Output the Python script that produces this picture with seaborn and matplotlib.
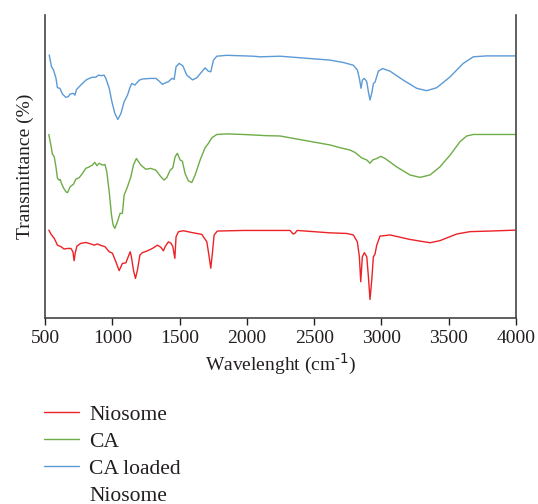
import numpy as np
import pandas as pd
import matplotlib
matplotlib.use('Agg')
import matplotlib.pyplot as plt
import seaborn as sns

# FTIR spectra (wavenumber in cm-1, transmittance in arbitrary %)
niosome_wn = [527, 547, 567, 591, 617, 641, 666, 691, 706, 715, 723, 736, 765, 802, 840, 864,
              889, 914, 944, 976, 1000, 1025, 1050, 1074, 1100, 1117, 1132, 1141, 1156, 1171,
              1186, 1204, 1223, 1260, 1297, 1335, 1360, 1379, 1392, 1416, 1436, 1449, 1464,
              1473, 1491, 1528, 1602, 1664, 1702, 1719, 1731, 1743, 1756, 1780, 1974, 2246,
              2321, 2343, 2358, 2373, 2618, 2742, 2791, 2821, 2836, 2846, 2858, 2873, 2891,
              2903, 2915, 2928, 2940, 2952, 2965, 2989, 3064, 3212, 3361, 3435, 3559, 3658,
              3807, 3993]
niosome_t = [29.3, 27.7, 26.6, 24.3, 23.8, 23.0, 23.2, 23.2, 22.1, 19.1, 21.6, 24.0, 24.9, 25.2,
             24.7, 24.3, 24.7, 24.2, 23.8, 22.1, 21.6, 18.8, 15.8, 18.2, 18.4, 20.4, 22.1, 20.4,
             16.0, 13.2, 16.0, 21.0, 21.8, 22.4, 23.2, 24.3, 23.6, 22.4, 23.8, 25.4, 24.9, 23.8,
             19.9, 27.1, 28.8, 29.1, 28.4, 27.9, 25.4, 20.4, 16.6, 21.6, 27.7, 29.0, 29.2, 29.2,
             29.2, 28.0, 28.3, 29.2, 28.4, 28.2, 27.7, 25.4, 20.4, 12.1, 20.4, 21.8, 20.4, 13.8,
             6.2, 12.7, 20.4, 21.3, 24.3, 27.3, 27.7, 26.2, 25.1, 25.8, 28.0, 28.8, 29.0, 29.3]

ca_wn = [527, 542, 554, 567, 580, 591, 604, 611, 621, 636, 654, 666, 686, 710, 728, 753, 777,
         802, 827, 851, 869, 884, 901, 926, 944, 958, 976, 993, 1005, 1018, 1037, 1057, 1074,
         1087, 1112, 1137, 1156, 1178, 1211, 1248, 1285, 1323, 1360, 1384, 1404, 1429, 1449,
         1466, 1483, 1503, 1520, 1540, 1565, 1590, 1615, 1652, 1689, 1713, 1739, 1776, 1850,
         1974, 2148, 2246, 2618, 2692, 2767, 2804, 2853, 2891, 2915, 2935, 2965, 2995, 3027,
         3113, 3212, 3287, 3361, 3435, 3510, 3584, 3634, 3683, 3993]
ca_t = [61.2, 57.7, 54.6, 53.8, 50.4, 46.6, 46.0, 46.2, 44.9, 43.4, 42.1, 41.8, 43.8, 44.6, 46.3,
        46.8, 48.2, 49.9, 50.4, 51.0, 51.9, 50.8, 51.6, 51.0, 51.2, 48.8, 42.1, 34.3, 31.0, 29.9,
        32.1, 34.9, 34.9, 41.0, 43.8, 47.1, 51.0, 53.2, 51.0, 49.6, 49.9, 49.3, 47.1, 46.0, 46.8,
        49.3, 50.1, 53.8, 54.9, 52.7, 52.3, 48.2, 45.7, 45.2, 47.7, 52.7, 56.8, 58.2, 60.1, 61.2,
        61.4, 61.2, 60.8, 60.7, 57.7, 56.8, 56.0, 55.2, 53.4, 52.7, 51.6, 52.7, 53.2, 53.9, 53.2,
        50.4, 47.7, 46.9, 47.7, 50.4, 54.3, 58.8, 60.7, 61.2, 61.2]

loaded_wn = [530, 547, 562, 580, 591, 609, 629, 654, 671, 686, 710, 721, 733, 765, 802, 827,
             851, 877, 896, 918, 938, 951, 976, 996, 1018, 1040, 1063, 1087, 1112, 1132, 1144,
             1167, 1199, 1223, 1285, 1323, 1347, 1372, 1392, 1416, 1442, 1459, 1473, 1496,
             1523, 1553, 1595, 1627, 1664, 1689, 1713, 1731, 1751, 1776, 1850, 2048, 2098,
             2246, 2618, 2717, 2791, 2821, 2836, 2848, 2858, 2873, 2891, 2903, 2915, 2930,
             2940, 2952, 2977, 3009, 3064, 3163, 3262, 3336, 3411, 3510, 3608, 3683, 3782, 3993]
loaded_t = [87.7, 83.8, 82.7, 80.0, 76.8, 76.6, 74.6, 73.6, 73.8, 74.7, 74.9, 74.3, 76.2, 77.7,
            79.3, 79.9, 80.3, 80.3, 81.0, 80.8, 81.0, 79.9, 76.6, 72.1, 68.2, 66.2, 68.2, 72.1,
            74.3, 77.1, 78.2, 77.7, 79.3, 79.7, 79.9, 79.9, 79.0, 77.9, 78.4, 78.8, 79.9, 79.6,
            83.8, 84.9, 84.1, 81.0, 79.4, 80.1, 82.1, 83.4, 82.3, 82.1, 86.0, 87.3, 87.6, 87.3,
            87.1, 87.3, 86.0, 85.2, 84.3, 82.7, 79.9, 76.6, 79.3, 79.9, 78.8, 75.4, 72.7, 75.4,
            78.2, 78.6, 82.3, 83.2, 82.3, 79.3, 76.6, 75.8, 76.8, 80.4, 84.9, 87.1, 87.4, 87.4]

samples = ['Niosome', 'CA', 'CA loaded Niosome']
colors = ['#EC2227', '#6EAC46', '#5B9AD6']
x_ticks = [500, 1000, 1500, 2000, 2500, 3000, 3500, 4000]

df = pd.concat([
    pd.DataFrame({'wn': niosome_wn, 'T': niosome_t, 'sample': samples[0]}),
    pd.DataFrame({'wn': ca_wn, 'T': ca_t, 'sample': samples[1]}),
    pd.DataFrame({'wn': loaded_wn, 'T': loaded_t, 'sample': samples[2]}),
], ignore_index=True)

sns.set_style('ticks')
plt.rcParams['font.family'] = ['Liberation Serif', 'DejaVu Serif']
plt.rcParams['text.color'] = '#231F20'
plt.rcParams['axes.labelcolor'] = '#231F20'
plt.rcParams['xtick.color'] = '#231F20'

fig = plt.figure(figsize=(5.38, 5.04), dpi=100)
ax = fig.add_axes([0.084, 0.369, 0.875, 0.601])

sns.lineplot(data=df, x='wn', y='T', hue='sample', palette=dict(zip(samples, colors)),
             sort=False, estimator=None, linewidth=1.0, ax=ax, legend=False)

ax.set_xlim(500, 4000)
ax.set_ylim(0, 101)
ax.set_xticks(x_ticks)
ax.set_xticklabels([str(t) for t in x_ticks], fontsize=14)
ax.set_yticks([])
ax.tick_params(axis='x', direction='out', length=5, width=1)
ax.set_xlabel(r'Wavelenght (cm$^{\text{-1}}$)', fontsize=14, labelpad=4)
ax.set_ylabel('Transmittance (%)', fontsize=14, labelpad=8)
for side in ['left', 'right', 'bottom']:
    ax.spines[side].set_color('#444444')
    ax.spines[side].set_linewidth(1.2)
ax.spines['top'].set_visible(False)

# legend: the long label wraps, the handle sits on its first line
handles = [plt.Line2D([], [], color=c, lw=1.0) for c in colors]
handles.append(plt.Line2D([], [], color='none'))
labels = ['Niosome', 'CA', 'CA loaded', 'Niosome']
fig.legend(handles, labels, loc='upper left', bbox_to_anchor=(0.066, 0.214),
           frameon=False, fontsize=15.5, handlelength=1.6, handletextpad=0.5,
           labelspacing=0.32, borderaxespad=0)

fig.savefig('out.png', dpi=100)
